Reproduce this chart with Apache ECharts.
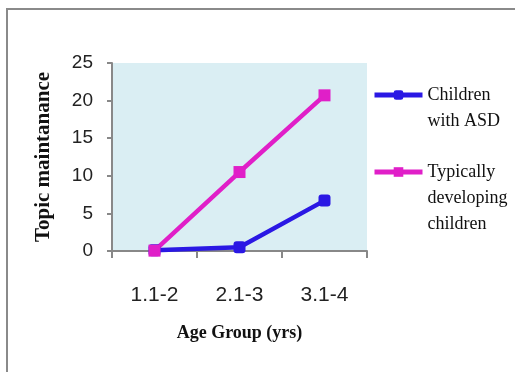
<!DOCTYPE html>
<html>
<head>
<meta charset="utf-8">
<script src="https://cdn.jsdelivr.net/npm/echarts@6/dist/echarts.min.js"></script>
<style>
  html, body { margin: 0; padding: 0; background: #fff; }
  #wrap { position: relative; width: 515px; height: 372px; overflow: hidden; }
  #chart { width: 515px; height: 372px; }
  #frame { position: absolute; left: 6px; top: 8px; width: 600px; height: 500px;
           border-left: 2px solid #8a8a8a; border-top: 2px solid #8a8a8a; pointer-events: none; }
</style>
</head>
<body>
<div id="wrap">
  <div id="chart"></div>
  <div id="frame"></div>
</div>
<script>
const categories = ['1.1-2', '2.1-3', '3.1-4'];
const asdValues = [0.1, 0.5, 6.7];
const tdValues = [0.05, 10.5, 20.7];
const yTicks = [0, 5, 10, 15, 20, 25];
const seriesNames = ['Children with ASD', 'Typically developing children'];
const legendLines = { 'Children with ASD': ['Children', 'with ASD'], 'Typically developing children': ['Typically', 'developing', 'children'] };

const BLUE = '#2A18E4';
const PINK = '#E01FC8';
const sans = '"Liberation Sans", Arial, sans-serif';
const serif = '"Liberation Serif", "DejaVu Serif", serif';
const LH = 26;

const chart = echarts.init(document.getElementById('chart'));

function legendFor(name, color, iconY) {
  const lines = legendLines[name];
  const n = lines.length;
  const boxH = (2 * n - 1) * LH;
  return {
    data: [name],
    orient: 'vertical',
    left: 367,
    top: iconY - boxH / 2 - 5,
    itemWidth: 48,
    itemHeight: 12,
    itemGap: 0,
    selectedMode: false,
    itemStyle: { color: color },
    lineStyle: { color: color, width: 5 },
    formatter: () => '\n'.repeat(n - 1) + lines.join('\n'),
    textStyle: { fontFamily: serif, fontSize: 18, color: '#111', lineHeight: LH }
  };
}

chart.setOption({
  animation: false,
  grid: { left: 112, right: 148, top: 63, bottom: 121, show: true, backgroundColor: '#DAEEF3', borderWidth: 0 },
  legend: [legendFor(seriesNames[0], BLUE, 95), legendFor(seriesNames[1], PINK, 172)],
  xAxis: {
    type: 'category',
    data: categories,
    boundaryGap: true,
    name: 'Age Group (yrs)',
    nameLocation: 'middle',
    nameGap: 73,
    nameTextStyle: { fontFamily: serif, fontSize: 18, fontWeight: 'bold', color: '#111' },
    axisLine: { show: true, lineStyle: { color: '#888', width: 2 } },
    axisTick: { show: true, length: 7, alignWithLabel: false, lineStyle: { color: '#888', width: 2 } },
    axisLabel: { fontFamily: sans, fontSize: 21, color: '#222', margin: 34 },
    splitLine: { show: false }
  },
  yAxis: {
    type: 'value',
    min: yTicks[0],
    max: yTicks[yTicks.length - 1],
    interval: 5,
    name: 'Topic maintanance',
    nameLocation: 'middle',
    nameGap: 58,
    nameTextStyle: { fontFamily: serif, fontSize: 21, fontWeight: 'bold', color: '#111' },
    axisLine: { show: true, lineStyle: { color: '#888', width: 2 } },
    axisTick: { show: true, length: 5, lineStyle: { color: '#888', width: 2 } },
    axisLabel: { fontFamily: sans, fontSize: 19, color: '#222', margin: 19 },
    splitLine: { show: false }
  },
  series: [
    {
      name: seriesNames[0], type: 'line', data: asdValues,
      symbol: 'roundRect', symbolSize: 12,
      lineStyle: { color: BLUE, width: 4.5 },
      itemStyle: { color: BLUE }
    },
    {
      name: seriesNames[1], type: 'line', data: tdValues,
      symbol: 'rect', symbolSize: 12,
      lineStyle: { color: PINK, width: 4.5 },
      itemStyle: { color: PINK }
    }
  ]
});
</script>
</body>
</html>
